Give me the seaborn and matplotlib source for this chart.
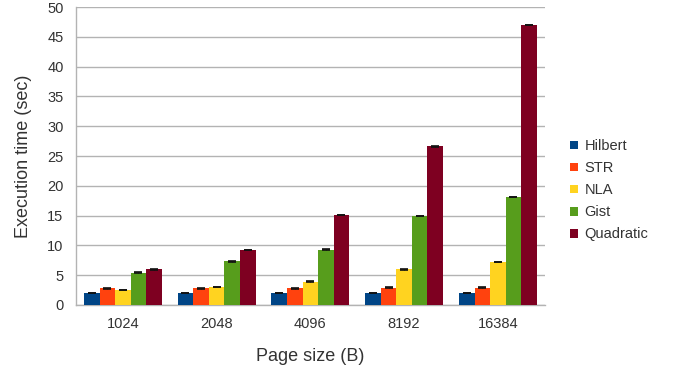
import numpy as np
import pandas as pd
import matplotlib
matplotlib.use('Agg')
import matplotlib.pyplot as plt
import seaborn as sns

page_sizes = ['1024', '2048', '4096', '8192', '16384']
methods = ['Hilbert', 'STR', 'NLA', 'Gist', 'Quadratic']
hilbert = [2.0, 2.0, 2.0, 2.0, 2.0]
str_vals = [2.8, 2.8, 2.8, 2.9, 2.9]
nla = [2.5, 3.0, 3.9, 6.0, 7.2]
gist = [5.4, 7.3, 9.3, 14.9, 18.1]
quadratic = [6.0, 9.2, 15.1, 26.6, 47.0]
err = 0.05
colors = ['#004586', '#ff420e', '#ffd320', '#579d1c', '#7e0021']

series = [hilbert, str_vals, nla, gist, quadratic]
df = pd.DataFrame({
    'Page size (B)': page_sizes * len(methods),
    'Method': [m for m in methods for _ in page_sizes],
    'Time': [v for s in series for v in s],
})

sns.set_style('white')
plt.rcParams['font.family'] = ['Liberation Sans', 'DejaVu Sans']

fig, ax = plt.subplots(figsize=(6.75, 3.71), dpi=100)
fig.subplots_adjust(left=0.1126, right=0.807, top=0.981, bottom=0.178)

sns.barplot(data=df, x='Page size (B)', y='Time', hue='Method', palette=colors,
            errorbar=None, width=0.83, saturation=1, linewidth=0, gap=0,
            ax=ax, zorder=3)

# small error bars on top of each bar
for p in ax.patches[:len(df)]:
    ax.errorbar(p.get_x() + p.get_width() / 2, p.get_height(), yerr=err,
                fmt='none', ecolor='#111111', elinewidth=0.6, capsize=3, capthick=1.2, zorder=4)

ax.set_ylim(0, 50)
ax.set_xlim(-0.5, 4.5)
ax.set_yticks(range(0, 51, 5))
ax.yaxis.grid(True, color='#b3b3b3', linewidth=1, zorder=0)
ax.set_axisbelow(True)
for side in ['top', 'right']:
    ax.spines[side].set_visible(False)
for side in ['left', 'bottom']:
    ax.spines[side].set_color('#b3b3b3')
    ax.spines[side].set_linewidth(1)

ax.tick_params(axis='y', length=6, color='#b3b3b3', labelsize=10.5, labelcolor='#333333', pad=3)
ax.tick_params(axis='x', which='major', length=0, labelsize=10.5, labelcolor='#333333', pad=9)
ax.set_xticks(np.arange(-0.5, 5, 1), minor=True)
ax.tick_params(axis='x', which='minor', length=7, color='#b3b3b3')

ax.set_xlabel('Page size (B)', fontsize=13, color='#333333', labelpad=12)
ax.set_ylabel('Execution time (sec)', fontsize=13, color='#333333', labelpad=11)

ax.legend(loc='center left', bbox_to_anchor=(1.035, 0.385), frameon=False, fontsize=10.5,
          handlelength=0.55, handleheight=0.55, handletextpad=0.45, labelspacing=0.55,
          labelcolor='#333333', borderaxespad=0.2)

fig.savefig('out.png', dpi=100)
